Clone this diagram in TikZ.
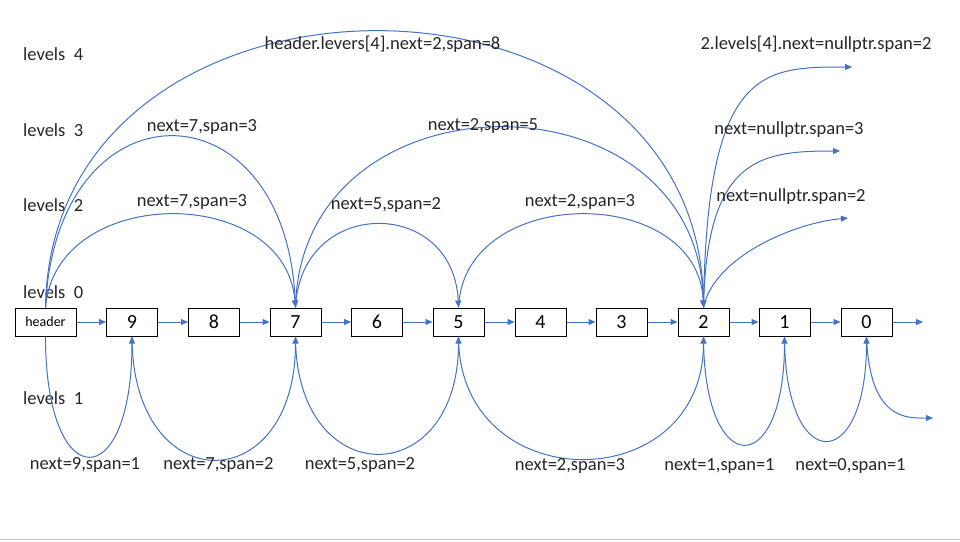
\documentclass[tikz,border=0pt]{standalone}
\usepackage{fontspec}
\setmainfont{Carlito}
\usetikzlibrary{arrows.meta}

\definecolor{linkblue}{HTML}{4472C4}

\begin{document}
\begin{tikzpicture}[x=1pt, y=-1pt,
        box/.style={draw, line width=1pt, minimum width=51pt, minimum height=28pt,
                    inner sep=0pt, font=\fontsize{20}{24}\selectfont},
        arr/.style={-{Triangle[length=7pt, width=6pt]}, line width=1pt, color=linkblue},
        lbl/.style={inner sep=0pt, text=black!85, font=\fontsize{18.5}{22}\selectfont},
        lvl/.style={lbl, anchor=west}
    ]
        \useasboundingbox (0,0) rectangle (960,541);
        \draw[gray!45, line width=1.5pt] (0,539.5) -- (960,539.5);

        % level names
        \node[lvl] (lv4) at (23,54) {levels\ \ 4};
        \node[lvl] (lv3) at (23,130) {levels\ \ 3};
        \node[lvl] (lv2) at (23,205) {levels\ \ 2};
        \node[lvl] (lv0) at (23,292) {levels\ \ 0};
        \node[lvl] (lv1) at (23,398) {levels\ \ 1};

        % the list
        \node[box, minimum width=61pt, font=\fontsize{14}{16}\selectfont] (header) at (45.5,322) {header};
        \node[box] (n9) at (132,322) {9};
        \node[box] (n8) at (214,322) {8};
        \node[box] (n7) at (295.5,322) {7};
        \node[box] (n6) at (377,322) {6};
        \node[box] (n5) at (458.5,322) {5};
        \node[box] (n4) at (540.5,322) {4};
        \node[box] (n3) at (621.5,322) {3};
        \node[box] (n2) at (703.5,322) {2};
        \node[box] (n1) at (784.5,322) {1};
        \node[box] (n0) at (866.5,322) {0};

        \coordinate (end0) at (923,322);
        \coordinate (end1) at (933,418);
        \coordinate (end2) at (848,218);
        \coordinate (end3) at (840,151);
        \coordinate (end4) at (852,67);

        \draw[arr] (header) -- (n9);
        \draw[arr] (n9) -- (n8);
        \draw[arr] (n8) -- (n7);
        \draw[arr] (n7) -- (n6);
        \draw[arr] (n6) -- (n5);
        \draw[arr] (n5) -- (n4);
        \draw[arr] (n4) -- (n3);
        \draw[arr] (n3) -- (n2);
        \draw[arr] (n2) -- (n1);
        \draw[arr] (n1) -- (n0);
        \draw[arr] (n0) -- (end0);

        % upper levels
        \draw[arr] (header.north) .. controls +(10,-124) and +(-10,-124) .. (n7.north);
        \draw[arr] (header.north) .. controls +(10,-228) and +(-10,-228) .. (n7.north);
        \draw[arr] (header.north) .. controls +(5,-368) and +(-5,-368) .. (n2.north);
        \draw[arr] (n7.north) .. controls +(5,-111) and +(-5,-111) .. (n5.north);
        \draw[arr] (n7.north) .. controls +(5,-240) and +(-5,-240) .. (n2.north);
        \draw[arr] (n5.north) .. controls +(5,-124) and +(-5,-124) .. (n2.north);
        \draw[arr] (n2.north) .. controls +(10,-50) and +(-55,5) .. (end2);
        \draw[arr] (n2.north) .. controls +(3,-150) and +(-80,0) .. (end3);
        \draw[arr] (n2.north) .. controls +(3,-240) and +(-90,0) .. (end4);

        % level 1
        \draw[arr] (header.south) .. controls +(0,160) and +(0,160) .. (n9.south);
        \draw[arr] (n9.south) .. controls +(0,164) and +(0,164) .. (n7.south);
        \draw[arr] (n7.south) .. controls +(0,156) and +(0,156) .. (n5.south);
        \draw[arr] (n5.south) .. controls +(0,163) and +(0,163) .. (n2.south);
        \draw[arr] (n2.south) .. controls +(0,144) and +(0,144) .. (n1.south);
        \draw[arr] (n1.south) .. controls +(0,139) and +(0,139) .. (n0.south);
        \draw[arr] (n0.south) .. controls +(3,85) and +(-25,0) .. (end1);

        % labels
        \node[lbl] (hd4) at (382.5,44) {header.levers[4].next=2,span=8};
        \node[lbl] (tw4) at (816,44) {2.levels[4].next=nullptr.span=2};
        \node[lbl] (hd3) at (202,127) {next=7,span=3};
        \node[lbl] (sv3) at (483,126) {next=2,span=5};
        \node[lbl] (tw3) at (789,130) {next=nullptr.span=3};
        \node[lbl] (hd2) at (192,202) {next=7,span=3};
        \node[lbl] (sv2) at (386,205) {next=5,span=2};
        \node[lbl] (fv2) at (580,202) {next=2,span=3};
        \node[lbl] (tw2) at (791,197) {next=nullptr.span=2};
        \node[lbl] (hd1) at (85,465) {next=9,span=1};
        \node[lbl] (nn1) at (218.5,465) {next=7,span=2};
        \node[lbl] (sv1) at (360,465) {next=5,span=2};
        \node[lbl] (fv1) at (570,466) {next=2,span=3};
        \node[lbl] (tw1) at (719.5,466) {next=1,span=1};
        \node[lbl] (on1) at (850.5,466) {next=0,span=1};
    \end{tikzpicture}
\end{document}
